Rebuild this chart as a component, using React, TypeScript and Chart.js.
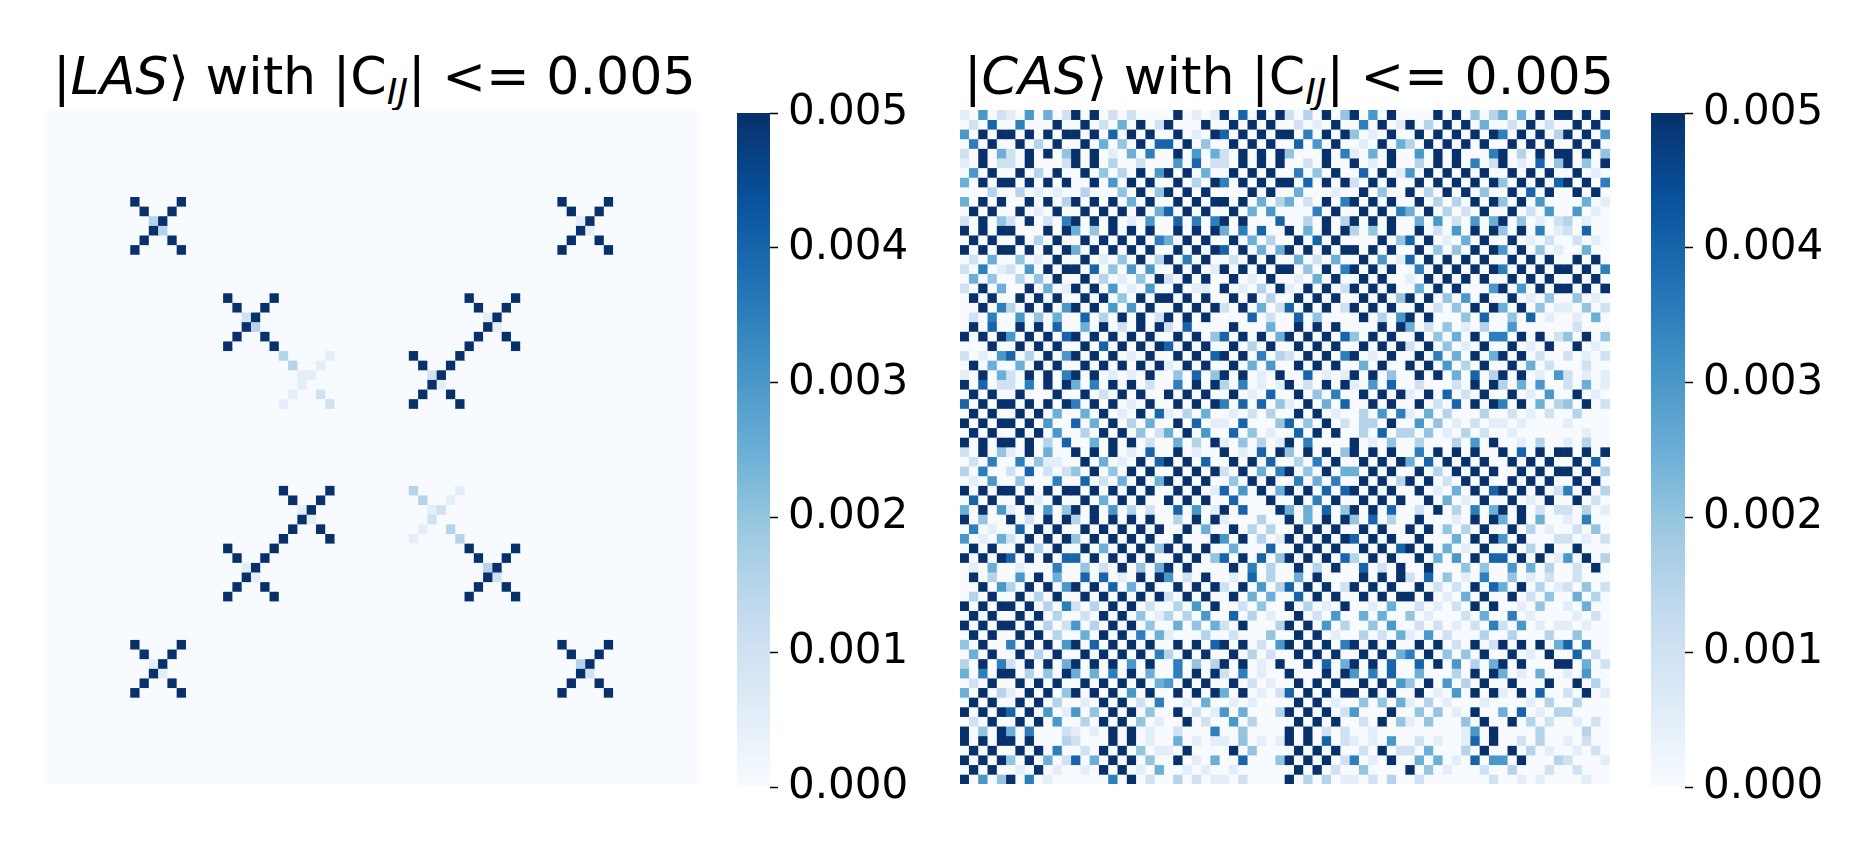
import React, { useEffect, useRef } from "react";
import { Chart, registerables } from "chart.js";

Chart.register(...registerables);

// Cell shades, per row as "column:shade" (shade 0-8 = 0.0005 steps, 9 = 0.005 or more).
const lasRows: Record<number, string> = {
  9: "9:9 14:9 55:9 60:9",
  10: "10:9 13:9 56:9 59:9",
  11: "11:3 12:9 57:1 58:9",
  12: "11:9 12:3 57:9 58:1",
  13: "10:9 13:9 56:9 59:9",
  14: "9:9 14:9 55:9 60:9",
  19: "19:9 24:9 45:9 50:9",
  20: "20:9 23:9 46:9 49:9",
  21: "21:2 22:9 47:1 48:9",
  22: "21:9 22:3 47:9 48:1",
  23: "20:9 23:9 46:9 49:9",
  24: "19:9 24:9 45:9 50:9",
  25: "25:3 30:1 39:9 44:9",
  26: "26:3 29:1 40:9 43:9",
  27: "27:1 28:1 41:2 42:9",
  28: "27:1 41:9 42:1",
  29: "26:1 29:2 40:9 43:9",
  30: "25:1 30:2 39:9 44:9",
  39: "25:9 30:9 39:3 44:1",
  40: "26:9 29:9 40:3 43:1",
  41: "27:1 28:9 41:1 42:2",
  42: "27:9 28:1 41:2",
  43: "26:9 29:9 40:1 43:3",
  44: "25:9 30:9 39:1 44:3",
  45: "19:9 24:9 45:9 50:9",
  46: "20:9 23:9 46:9 49:9",
  47: "21:1 22:9 47:3 48:9",
  48: "21:9 22:1 47:9 48:2",
  49: "20:9 23:9 46:9 49:9",
  50: "19:9 24:9 45:9 50:9",
  55: "9:9 14:9 55:9 60:9",
  56: "10:9 13:9 56:9 59:9",
  57: "11:1 12:9 57:3 58:9",
  58: "11:9 12:1 57:9 58:2",
  59: "10:9 13:9 56:9 59:9",
  60: "9:9 14:9 55:9 60:9",
};

const casRows: string[] = [
  "0:1 2:6 4:2 5:1 7:6 9:5 11:2 12:9 14:9 16:2 18:2 23:9 25:1 27:1 28:9 30:8 32:9 34:9 35:2 37:3 39:9 41:4 42:9 44:6 46:9 51:9 53:9 55:4 57:3 58:5 60:5 62:9 64:9 65:9 67:9 69:9",
  "1:2 3:8 6:7 10:9 13:9 15:2 17:5 19:9 21:2 22:9 26:9 29:9 31:9 33:9 36:2 38:1 40:9 43:7 45:9 47:1 48:9 50:3 52:9 54:9 56:5 59:2 61:9 63:2 66:9 68:9",
  "0:6 2:9 4:9 5:9 7:9 9:9 11:9 12:9 14:9 16:8 18:9 20:9 23:9 25:1 27:9 28:8 30:9 32:9 34:9 35:9 37:7 39:9 41:9 42:4 44:1 46:9 49:9 51:9 53:9 55:9 57:9 58:7 60:9 62:9 64:3 65:9 67:9 69:6",
  "1:7 3:9 6:9 8:3 10:9 13:9 15:5 17:4 19:9 21:8 22:8 24:9 26:4 29:9 31:9 33:9 36:8 38:6 40:9 43:1 45:9 47:5 48:3 50:9 52:9 54:9 56:9 59:9 61:9 63:9 66:9 68:9",
  "0:2 2:9 4:5 5:2 7:9 9:9 11:4 12:9 14:9 16:1 18:5 20:7 23:9 25:6 27:5 28:2 30:9 32:9 34:9 35:4 39:9 41:7 42:1 44:5 46:9 49:6 51:9 53:9 57:7 58:9 60:3 62:9 64:9 65:9 67:9 69:4",
  "0:1 2:9 4:2 5:2 7:9 11:2 12:9 14:9 16:3 19:2 23:6 25:8 27:2 28:2 30:9 32:9 34:9 37:2 39:9 42:9 44:1 46:9 49:3 51:9 53:9 55:7 57:2 58:9 60:1 62:8 64:4 65:9 67:4 69:9",
  "1:6 3:9 6:9 8:3 10:9 13:9 15:4 17:3 19:9 21:6 22:9 24:9 26:5 29:9 31:9 33:9 36:7 38:4 40:9 43:8 45:9 47:1 48:6 50:9 52:9 54:9 56:9 59:9 61:9 63:9 66:9 68:1",
  "0:5 2:9 4:9 5:9 7:9 9:9 11:9 14:9 16:6 18:9 20:9 23:9 25:3 27:9 28:7 30:9 32:9 34:9 35:9 37:8 39:9 41:9 42:2 44:9 46:9 49:9 51:9 53:9 55:9 57:9 58:4 60:9 62:9 64:8 65:9 67:9 69:7",
  "3:3 6:3 8:1 10:1 13:3 17:4 19:9 21:4 22:9 24:9 26:9 31:9 33:9 36:5 40:1 43:9 45:4 48:9 50:3 52:9 54:9 56:4 59:9 61:8 63:9 66:9 68:9",
  "0:5 2:9 4:9 7:9 9:9 11:3 12:9 14:9 16:9 18:5 20:9 23:9 25:9 27:9 28:9 30:9 32:5 34:3 35:5 37:2 39:9 41:7 42:9 44:9 46:9 49:9 51:3 53:3 55:9 57:9 58:4 60:9 62:6 67:5 69:1",
  "1:9 3:9 6:9 8:1 10:9 13:9 15:9 17:9 19:9 21:5 22:8 24:9 26:9 29:9 31:5 33:6 38:7 40:9 43:9 45:9 47:7 48:5 50:9 52:3 54:2 56:9 59:9 61:2 63:6 66:6 68:1",
  "0:2 2:9 4:4 5:2 7:9 9:2 11:7 12:9 14:9 16:9 18:1 20:6 23:8 25:7 27:7 28:9 30:9 34:8 37:3 39:9 41:3 42:9 44:9 46:9 49:5 51:6 53:2 55:6 57:5 58:9 60:4 62:1 64:2 65:3 67:1",
  "0:9 2:9 4:9 5:9 9:9 11:9 12:5 14:4 16:9 18:9 20:9 23:9 25:9 27:9 28:5 30:7 32:8 35:9 37:5 39:9 41:9 42:3 44:4 46:9 49:9 51:2 53:6 55:9 57:9 58:4 60:9 62:7 64:1 65:2 67:8",
  "1:9 3:9 6:9 8:3 10:9 13:9 15:9 17:9 19:9 21:7 22:5 24:9 26:9 29:9 31:5 33:3 36:9 38:8 40:9 45:9 47:4 48:8 50:9 52:1 54:5 56:9 59:9 61:1 63:2 66:2 68:1",
  "0:9 2:9 4:9 5:9 7:9 9:9 11:9 12:5 14:9 16:9 18:9 20:9 23:9 25:9 27:9 28:8 30:9 32:5 34:5 35:9 37:9 39:9 41:9 42:9 44:9 46:9 49:9 51:4 53:4 55:9 57:9 58:6 60:9 62:4 64:1 67:5",
  "1:2 3:5 6:4 8:1 10:9 13:9 15:1 17:4 19:9 21:3 22:9 24:7 26:9 29:2 31:9 33:9 36:5 38:2 40:5 43:9 45:6 47:1 48:8 50:9 52:9 54:9 56:9 59:9 61:9 63:9 66:9 68:9",
  "0:2 2:7 4:1 5:2 7:6 9:9 11:9 12:9 14:8 16:4 18:6 20:6 23:9 25:9 27:1 28:9 30:9 32:9 34:9 35:9 37:4 39:9 41:7 42:9 44:9 46:9 49:7 51:9 53:9 55:9 57:9 58:7 60:9 62:9 64:9 65:9 67:9 69:7",
  "1:5 3:4 6:3 8:4 10:9 13:9 15:3 17:1 19:4 21:9 22:2 24:9 26:9 29:9 31:1 33:9 36:1 38:5 40:9 43:9 45:9 48:1 50:9 52:9 54:9 56:9 59:9 61:9 63:9 66:9 68:9",
  "0:2 2:9 4:5 7:9 9:5 11:1 12:9 14:9 16:6 18:1 20:6 23:9 25:1 26:1 28:9 30:1 32:3 34:9 35:1 37:9 39:9 41:2 42:9 44:9 46:9 49:5 51:9 53:9 57:6 58:9 60:6 62:9 64:9 65:9 67:9 69:9",
  "1:9 3:9 6:9 8:9 10:9 13:9 15:9 17:4 19:9 21:9 22:9 24:9 26:9 29:9 31:9 33:3 36:9 38:9 40:9 43:9 45:9 47:4 48:9 50:9 52:4 54:6 56:9 59:9 61:1 63:4 66:4 68:1",
  "2:9 4:7 5:3 7:9 9:9 11:6 12:9 14:9 16:6 18:6 20:9 23:9 25:9 27:9 28:2 30:9 32:5 34:2 35:8 37:9 39:9 41:2 42:9 44:9 46:9 49:9 51:2 53:4 55:9 57:9 58:5 60:9 62:4 64:1 65:1 67:4 69:2",
  "1:2 3:7 6:6 8:4 10:5 13:8 15:3 17:9 19:9 21:2 22:9 24:9 26:9 31:8 33:2 36:8 38:4 43:9 45:3 47:6 48:9 50:9 54:4 56:8 59:4 61:8 63:1 66:1 68:5",
  "1:9 3:8 6:9 8:9 10:8 13:5 15:9 17:2 19:9 21:9 22:2 24:8 29:9 33:5 36:9 38:9 40:9 45:9 47:9 48:5 50:2 52:4 54:1 56:3 59:6 66:2",
  "0:9 2:9 4:9 5:6 7:9 9:9 11:8 12:9 14:9 16:9 18:9 20:9 23:9 25:9 27:4 28:8 30:9 32:9 34:5 35:9 37:9 39:9 41:8 42:4 44:9 46:9 49:9 51:4 53:5 55:9 57:7 58:7 60:9 62:9 64:2 65:4 67:9 69:4",
  "3:9 6:9 8:9 10:9 13:9 15:8 17:9 19:9 21:9 22:8 24:9 26:9 29:9 31:3 33:9 36:9 38:9 40:9 43:9 45:9 47:9 48:2 50:9 52:4 54:1 56:9 59:9 61:1 63:9 66:9 68:1",
  "0:2 2:1 4:6 5:8 7:3 9:9 11:6 12:9 14:9 16:9 18:1 20:9 23:9 25:9 27:8 28:9 30:9 32:7 34:3 35:2 37:9 39:9 41:7 42:9 44:1 46:9 49:9 51:7 53:5 55:9 57:5 58:9 60:9 62:2 65:2 67:1 69:2",
  "1:9 3:5 6:5 8:9 10:9 13:9 15:9 17:9 19:9 21:9 22:1 24:9 26:9 29:9 31:5 33:6 36:9 38:9 40:9 43:5 45:9 48:9 50:9 52:6 54:3 56:9 59:9 61:5 63:2 67:2",
  "0:1 2:9 4:5 5:2 7:9 9:9 11:7 12:9 14:9 16:1 18:1 20:9 23:4 25:8 27:4 28:9 30:9 32:1 34:9 37:8 39:1 41:1 42:9 44:9 46:4 49:9 51:9 53:5 55:8 57:3 58:9 60:9 62:1 64:6 65:2 67:1 69:1",
  "0:9 2:8 4:2 5:2 7:7 9:9 11:9 12:5 14:7 16:9 18:9 20:2 23:7 25:9 27:9 28:3 30:7 32:1 34:1 35:9 37:2 39:9 41:9 42:1 44:6 46:8 49:2 53:2 55:9 57:9 58:3 60:5 62:6 65:2 67:5 69:1",
  "1:9 3:9 6:9 10:9 13:9 15:2 17:9 19:9 22:9 24:9 26:9 29:9 31:1 33:8 36:9 38:4 40:7 43:9 45:9 47:9 48:1 50:9 52:8 54:2 56:9 59:9 61:1 63:6 66:9 68:1",
  "0:8 2:9 4:9 5:9 7:9 9:9 11:9 12:7 14:9 16:9 18:1 20:9 23:9 25:9 27:9 28:7 30:8 32:8 34:4 35:1 37:9 39:5 41:8 44:9 46:9 49:9 51:2 53:8 55:9 57:9 58:7 60:9 62:5 64:3 65:4 67:9 69:2",
  "1:9 3:9 6:9 8:9 10:5 13:5 15:9 17:1 19:9 21:8 22:1 24:3 26:5 29:1 31:2 33:3 36:9 38:9 40:1 43:3 45:6 47:7 48:1 50:5 52:3 56:3 59:2 61:1 63:2 66:3",
  "0:9 2:9 4:9 5:9 7:9 9:6 12:8 14:5 16:9 18:3 20:5 23:9 25:8 27:1 28:1 30:8 34:4 35:8 37:4 39:9 41:2 43:3 44:3 46:9 49:6 51:4 53:1 55:2 57:1 58:1 60:1 65:1",
  "1:9 3:9 6:9 8:9 10:6 13:3 15:9 17:9 19:4 21:2 22:5 24:9 26:6 29:8 31:4 33:1 36:8 38:9 40:9 43:3 45:8 47:3 48:3 50:4 52:1 54:3 56:2 59:1 67:1",
  "0:9 2:9 4:9 5:9 7:9 9:3 11:8 14:5 16:9 18:9 20:2 23:5 25:3 27:9 28:1 30:4 32:3 34:1 35:9 37:7 42:9 44:1 46:4 49:3 53:3 55:6 57:9 60:1 62:3 65:1 67:3",
  "0:2 2:9 4:4 5:1 7:9 9:5 12:9 14:9 16:9 18:1 20:8 23:9 25:1 28:9 30:1 32:8 34:9 35:4 37:9 39:9 41:4 42:9 44:9 46:9 49:7 51:9 53:9 55:9 58:9 60:8 62:9 64:9 65:9 67:9 69:9",
  "1:2 3:7 6:7 8:4 9:1 10:1 13:9 15:5 17:1 19:9 21:8 22:9 24:9 26:8 29:9 31:9 33:8 36:3 38:7 40:9 43:9 45:9 47:9 48:5 50:8 52:9 54:9 56:9 59:9 61:9 63:9 66:9 68:8",
  "0:3 2:7 5:2 7:8 9:2 11:2 12:4 14:9 16:4 18:9 20:9 23:9 25:9 27:9 28:2 30:9 32:5 34:7 35:9 37:4 39:9 41:5 42:5 44:9 46:9 49:9 51:3 53:9 55:9 57:9 60:9 62:9 64:9 65:9 67:9 69:3",
  "1:1 3:6 6:4 10:7 13:8 15:2 17:5 19:9 21:5 22:9 24:9 26:9 29:4 31:9 33:9 36:7 38:5 40:7 43:9 45:9 47:3 48:9 50:9 52:2 54:9 56:9 59:9 61:9 63:9 66:9 68:9",
  "0:9 2:9 4:9 5:9 7:9 9:9 11:9 12:9 14:9 16:9 18:9 20:9 23:9 25:9 27:1 28:8 30:6 32:9 34:5 35:9 37:9 39:8 41:8 42:9 44:9 46:9 49:9 51:1 53:5 55:9 57:8 58:9 60:9 62:9 64:2 65:7 67:9 69:3",
  "1:8 3:9 6:9 8:1 10:9 13:9 15:5 17:9 19:9 22:9 24:9 26:9 29:8 33:9 36:9 38:7 40:9 43:9 45:9 47:9 50:9 52:5 54:1 56:9 59:9 61:1 63:9 66:9 68:2",
  "0:5 2:9 4:6 5:1 7:9 9:6 11:4 12:9 14:9 16:6 18:3 20:2 23:8 25:6 27:1 28:9 30:8 34:9 35:5 37:5 39:8 41:4 42:9 44:9 46:8 49:2 51:9 53:3 55:7 57:5 58:9 60:9 62:2 64:2 65:2 67:3 69:1",
  "0:9 2:4 5:9 7:2 9:9 11:9 12:3 14:9 16:9 18:9 20:9 23:3 25:9 27:9 28:1 32:3 35:9 37:5 39:9 41:9 42:4 44:8 46:3 49:9 53:1 55:9 57:9 58:5 60:9 62:5 65:1 67:7",
  "1:7 3:1 6:8 8:9 10:9 13:9 15:9 17:9 19:9 21:9 24:9 26:5 29:9 31:3 33:3 36:9 38:9 40:9 43:9 45:9 48:9 50:9 52:4 54:3 56:9 59:9 61:3 63:1 66:2 68:4",
  "0:6 2:1 4:5 5:2 7:9 9:9 11:9 12:4 14:9 16:9 18:9 20:9 23:9 27:9 28:6 30:9 32:3 34:1 35:9 37:9 39:9 41:9 42:8 44:9 46:9 49:9 53:5 55:9 57:9 58:6 60:9 64:2 65:2 67:1 69:2",
  "1:9 3:9 6:9 8:3 10:9 13:9 15:5 17:9 19:9 21:4 22:9 24:9 26:9 29:5 33:8 36:9 38:9 40:9 43:9 45:9 47:8 48:9 50:9 52:5 54:1 56:9 59:9 61:3 63:9 66:9",
  "0:9 2:9 4:9 5:8 7:9 9:9 11:8 12:8 14:9 16:9 18:9 20:9 23:9 25:9 27:4 28:8 30:9 32:8 34:4 35:9 37:9 39:9 41:8 42:3 44:9 46:9 49:9 51:5 53:6 55:9 57:8 58:8 60:9 62:9 64:1 65:6 67:9 69:3",
  "1:1 3:5 6:1 10:7 13:4 15:2 17:9 19:4 21:5 22:9 24:9 29:9 31:7 33:3 36:9 38:3 40:9 43:8 45:2 47:9 50:9 54:4 56:4 59:6 61:5 63:3 66:2 68:9",
  "1:9 3:3 6:6 8:9 10:5 13:8 15:8 17:1 19:9 21:9 22:6 24:2 26:9 29:1 31:8 33:3 36:5 38:9 43:9 45:9 47:9 48:2 50:8 52:4 54:1 56:7 59:4 61:1 63:2 66:2",
  "2:9 4:6 5:3 7:9 9:9 11:6 12:9 14:9 16:8 18:5 20:9 23:9 25:9 27:9 28:2 30:9 32:6 34:3 35:8 37:9 39:9 41:2 42:9 44:9 46:9 49:9 51:2 53:2 55:9 57:8 58:5 60:9 62:3 64:1 65:2 67:4 69:2",
  "1:3 3:9 6:9 8:3 10:9 13:9 15:9 17:9 19:9 21:9 22:2 24:9 26:9 29:9 31:5 33:5 36:8 38:9 40:9 43:9 45:9 47:9 48:9 50:9 52:1 54:5 56:9 59:9 61:2 63:4 66:5 68:3",
  "0:9 2:9 4:9 5:9 7:9 9:3 11:7 12:2 14:3 16:9 18:9 20:2 23:3 25:6 27:9 30:2 32:4 35:9 37:3 39:1 41:9 44:1 46:5 49:2 51:1 53:2 55:9 57:9 60:1 62:4 65:1 67:5",
  "1:9 3:9 6:9 8:9 10:3 13:2 15:9 17:9 19:4 21:1 22:3 24:3 26:6 29:8 31:3 33:1 36:9 38:2 40:6 43:5 45:5 48:4 50:1 54:2 56:5 59:7 61:1 66:1 68:2",
  "0:9 2:9 4:9 5:9 7:9 9:3 11:2 12:6 14:3 16:9 18:9 20:4 23:5 25:4 27:5 28:2 30:9 34:3 35:9 37:9 39:6 41:3 44:4 46:6 49:2 51:2 53:1 55:2 57:7 58:2 60:6 62:1 64:1 65:1 67:1",
  "1:9 3:9 6:9 8:9 10:3 13:5 15:9 17:9 19:7 21:5 22:1 26:3 29:2 33:4 36:9 38:9 40:1 43:3 45:2 47:5 48:1 50:6 52:2 56:3 59:3 63:3 66:4",
  "0:4 2:9 5:7 7:9 9:9 11:6 12:9 14:8 16:9 18:9 20:9 23:9 25:9 27:8 28:9 30:9 32:2 34:6 35:9 37:9 39:9 41:7 42:9 44:9 46:9 49:9 51:9 53:2 55:9 57:2 58:9 60:9 62:9 64:5 65:8 67:7",
  "1:5 3:9 6:9 8:3 10:9 13:9 15:9 17:9 19:9 21:7 22:3 24:9 26:9 29:9 31:3 33:2 36:9 38:9 40:9 43:9 45:9 47:5 48:7 50:9 52:4 54:4 56:9 59:9 61:1 63:9 66:8 68:2",
  "0:3 2:9 4:7 5:2 7:9 9:9 11:5 12:9 14:9 16:9 18:6 20:9 23:7 25:4 27:3 28:9 30:9 32:1 34:9 37:9 39:8 41:5 42:9 44:9 46:8 49:8 51:9 53:6 55:3 57:5 58:9 60:9 64:9 65:9 67:5 69:2",
  "0:5 2:7 4:9 5:9 7:3 9:4 11:9 12:5 14:5 16:7 18:9 20:5 23:7 25:9 27:9 28:2 30:7 32:1 35:9 39:9 41:9 42:6 44:7 46:8 49:5 53:3 55:9 57:9 58:5 60:1 62:5 65:1 67:6",
  "1:2 3:9 6:9 8:9 10:9 13:9 15:9 17:9 19:9 21:5 22:6 24:9 26:9 29:9 31:2 33:1 36:9 38:9 40:9 43:9 45:9 47:6 48:4 50:9 52:6 54:3 56:9 59:9 63:9 66:9 68:3",
  "0:5 2:9 4:3 5:1 7:9 9:9 11:4 12:9 14:9 16:9 18:6 20:9 23:9 25:9 27:9 28:5 30:9 32:1 34:2 35:8 37:9 39:9 41:9 42:9 44:9 46:9 49:9 51:1 53:6 55:9 57:9 58:1 60:9 62:8 65:2 67:9 69:1",
  "1:9 3:9 6:9 8:9 10:3 13:1 15:9 17:9 19:2 21:7 24:1 26:5 29:1 31:1 36:9 38:9 40:1 43:4 45:4 47:5 48:1 50:3 52:1 56:1 61:1 63:3 66:3",
  "0:9 2:9 4:9 5:8 7:9 9:6 11:1 12:6 14:4 16:9 18:9 20:4 23:9 25:2 27:1 28:6 30:5 34:3 35:9 37:9 39:9 41:2 42:6 46:9 49:4 51:4 53:1 55:9 58:5 60:8 62:1 64:3 65:3",
  "1:2 3:9 6:9 8:9 10:6 13:3 15:9 17:9 19:4 21:1 24:9 26:2 29:6 31:3 36:9 38:9 40:9 43:2 45:9 47:4 48:1 50:4 54:4 56:9 59:9 61:3 63:2 66:1 68:2",
  "0:9 2:4 4:9 5:5 7:7 11:2 12:1 14:1 16:9 18:9 20:1 23:2 27:7 30:4 35:9 37:9 39:2 41:2 44:1 54:1 55:6 57:9 62:3 67:3",
  "0:9 2:9 4:9 5:9 7:9 11:3 12:2 16:9 18:9 20:1 23:5 25:1 27:1 28:1 30:4 32:1 34:1 35:9 37:9 39:8 41:2 42:1 44:1 46:6 49:2 51:1 54:1 55:8 57:9 60:2 62:3 65:1 67:2",
  "1:9 3:9 6:9 8:9 10:7 13:2 15:9 17:9 19:4 21:1 22:1 24:9 29:9 31:4 36:9 38:9 40:9 43:2 45:9 47:2 48:2 50:5 54:3 56:9 59:9 61:3 63:1 66:1 68:2",
  "0:9 2:9 4:9 5:4 7:9 9:5 11:2 12:8 14:5 16:9 18:9 20:4 23:9 25:1 27:5 30:8 34:4 35:9 37:9 39:9 41:2 42:7 44:1 46:9 49:5 51:5 53:1 55:8 57:6 58:6 60:9 64:3 65:2 69:1",
  "1:9 3:9 6:1 8:9 10:1 13:1 15:9 17:9 19:1 21:5 24:1 26:1 29:1 36:9 38:9 40:2 43:4 48:9 50:4 52:1 56:2 59:3 63:2 66:2",
  "0:9 2:6 4:4 5:9 7:7 9:1 16:7 18:9 20:2 23:3 25:2 27:1 28:1 30:2 35:9 37:3 39:3 41:1 42:1 44:2 46:3 49:2 57:2 60:1 62:1 67:1",
];

const blues = ["#f7fbff", "#deebf7", "#c6dbef", "#9ecae1", "#6baed6", "#4292c6", "#2171b5", "#08519c", "#08306b"];
const colorbarTicks = [0, 0.001, 0.002, 0.003, 0.004, 0.005];
const GRID_SIZE = 70;
const VMAX = 0.005;
const FONT = "'DejaVu Sans'";

function hexToRgb(hex: string) {
  return [1, 3, 5].map((i) => parseInt(hex.slice(i, i + 2), 16));
}

function blueFor(value: number) {
  const t = Math.min(1, Math.max(0, value / VMAX)) * (blues.length - 1);
  const i = Math.min(blues.length - 2, Math.floor(t));
  const a = hexToRgb(blues[i]);
  const b = hexToRgb(blues[i + 1]);
  const f = t - i;
  return `rgb(${a.map((v, k) => Math.round(v + (b[k] - v) * f)).join(",")})`;
}

function parseRow(text: string | undefined) {
  const values: number[] = new Array(GRID_SIZE).fill(0);
  (text || "").split(" ").filter(Boolean).forEach((item) => {
    const [col, shade] = item.split(":").map(Number);
    values[col] = shade === 9 ? VMAX : shade * 0.0005;
  });
  return values;
}

function makeHeatmap(canvas: HTMLCanvasElement, rows: (string | undefined)[]) {
  const labels = Array.from({ length: GRID_SIZE }, (_, i) => String(i));
  const datasets = rows.map((text, r) => {
    const values = parseRow(text);
    return {
      data: values.map(() => [r, r + 1]),
      backgroundColor: values.map(blueFor),
      borderWidth: 0,
      barPercentage: 1,
      categoryPercentage: 1,
      grouped: false,
    };
  });
  return new Chart(canvas, {
    type: "bar",
    data: { labels, datasets } as any,
    options: {
      responsive: false,
      animation: false,
      events: [],
      layout: { padding: 0 },
      plugins: { legend: { display: false }, tooltip: { enabled: false }, title: { display: false } },
      scales: {
        x: { display: false, offset: true },
        y: { display: false, min: 0, max: GRID_SIZE, reverse: true },
      },
    },
  });
}

function makeColorbar(canvas: HTMLCanvasElement) {
  return new Chart(canvas, {
    type: "bar",
    data: {
      labels: ["colour"],
      datasets: [
        {
          data: [[0, VMAX]],
          borderWidth: 0,
          barPercentage: 1,
          categoryPercentage: 1,
          backgroundColor: (ctx: any) => {
            const { chart } = ctx;
            const yScale = chart.scales.y;
            if (!chart.chartArea || !yScale) return blues[8];
            const g = chart.ctx.createLinearGradient(0, yScale.getPixelForValue(0), 0, yScale.getPixelForValue(VMAX));
            blues.forEach((c, i) => g.addColorStop(i / (blues.length - 1), c));
            return g;
          },
        },
      ],
    } as any,
    options: {
      responsive: false,
      animation: false,
      events: [],
      layout: { padding: { top: 30, bottom: 30, left: 0, right: 0 } },
      plugins: { legend: { display: false }, tooltip: { enabled: false }, title: { display: false } },
      scales: {
        x: { display: false, offset: true },
        y: {
          position: "right",
          min: 0,
          max: VMAX,
          afterFit: (scale: any) => {
            scale.width = 150;
            scale.paddingTop = 0;
            scale.paddingBottom = 0;
          },
          afterBuildTicks: (scale: any) => {
            scale.ticks = colorbarTicks.map((value) => ({ value }));
          },
          border: { display: false },
          grid: { drawOnChartArea: false, drawTicks: true, tickLength: 8, tickWidth: 1.5, tickColor: "#000" },
          ticks: {
            color: "#000",
            padding: 10,
            font: { family: FONT, size: 42 },
            callback: (v: any) => Number(v).toFixed(3),
          },
        },
      },
    },
  } as any);
}

function Title({ name, left }: { name: string; left: number }) {
  return (
    <div
      style={{
        position: "absolute",
        left,
        top: 44,
        height: 64,
        lineHeight: "64px",
        fontFamily: FONT,
        fontSize: 52.2,
        color: "#000",
        whiteSpace: "nowrap",
      }}
    >
      |<i>{name}</i>⟩ with |C
      <i style={{ fontSize: 36, position: "relative", top: 10 }}>IJ</i>| &lt;= 0.005
    </div>
  );
}

export default function App() {
  const lasRef = useRef<HTMLCanvasElement>(null);
  const casRef = useRef<HTMLCanvasElement>(null);
  const bar1Ref = useRef<HTMLCanvasElement>(null);
  const bar2Ref = useRef<HTMLCanvasElement>(null);

  useEffect(() => {
    const lasList = Array.from({ length: GRID_SIZE }, (_, r) => lasRows[r]);
    const charts = [
      makeHeatmap(lasRef.current!, lasList),
      makeHeatmap(casRef.current!, casRows),
      makeColorbar(bar1Ref.current!),
      makeColorbar(bar2Ref.current!),
    ];
    return () => charts.forEach((c) => c.destroy());
  }, []);

  const abs = (left: number, top: number) => ({ position: "absolute" as const, left, top });

  return (
    <div style={{ position: "absolute", left: 0, top: 0, width: 1875, height: 858, overflow: "hidden", background: "#fff" }}>
      <Title name="LAS" left={53} />
      <Title name="CAS" left={964} />
      <canvas ref={lasRef} width={650} height={674} style={abs(47, 110)} />
      <canvas ref={casRef} width={650} height={674} style={abs(960, 110)} />
      <canvas ref={bar1Ref} width={183} height={734} style={abs(737, 83)} />
      <canvas ref={bar2Ref} width={184} height={734} style={abs(1651, 83)} />
    </div>
  );
}
